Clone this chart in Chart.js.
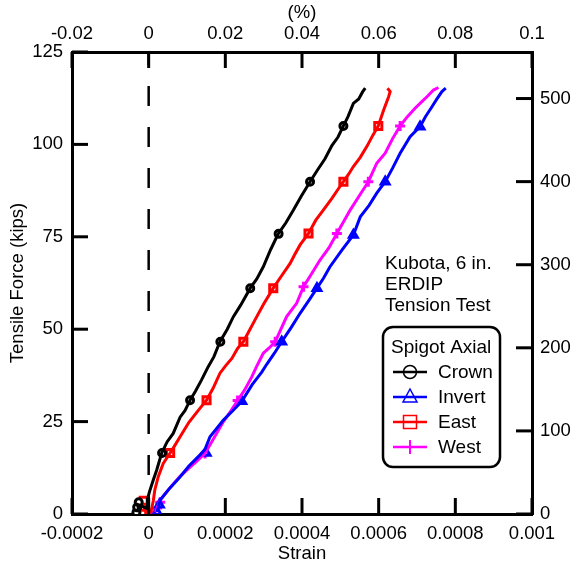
<!DOCTYPE html>
<html>
<head>
<meta charset="utf-8">
<script src="https://cdn.jsdelivr.net/npm/chart.js@4/dist/chart.umd.min.js"></script>
<style>
  html, body { margin: 0; padding: 0; background: #fff; }
  #wrap { width: 574px; height: 568px; }
</style>
</head>
<body>
<div id="wrap"><canvas id="chart" width="574" height="568"></canvas></div>
<script>
// Kubota 6 in. ERDIP tension test - spigot axial strain vs tensile force
const FONT_FAMILY = 'Arial, "Liberation Sans", sans-serif';
const KIPS_TO_KN = 4.448;

// Crown (black, circles)
const crownStrain = [-0.000028, -0.000027, -0.000004, -0.000003, 0.000002, 0.000012, 0.000021, 0.000034, 0.000048, 0.000064, 0.000082, 0.000095, 0.000108, 0.000122, 0.000138, 0.000155, 0.000170, 0.000186, 0.000205, 0.000221, 0.000240, 0.000265, 0.000282, 0.000299, 0.000318, 0.000338, 0.000358, 0.000378, 0.000398, 0.000421, 0.000440, 0.000460, 0.000478, 0.000494, 0.000508, 0.000520, 0.000534, 0.000548, 0.000558, 0.000565];
const crownForce = [0.5, 2.5, 1.5, 4.0, 6.0, 9.2, 11.9, 16.5, 19.5, 21.8, 26.2, 28.0, 30.8, 33.2, 36.3, 39.8, 42.5, 46.6, 50.0, 53.4, 56.5, 61.1, 63.6, 66.9, 71.5, 75.8, 78.8, 82.3, 86.0, 89.9, 93.0, 96.1, 99.7, 102.0, 105.0, 107.5, 111.1, 112.3, 114.2, 115.2];

// East (red, squares)
const eastStrain = [-0.000014, 0.000006, 0.000012, 0.000016, 0.000025, 0.000038, 0.000056, 0.000068, 0.000082, 0.000105, 0.000130, 0.000151, 0.000168, 0.000186, 0.000200, 0.000217, 0.000232, 0.000247, 0.000262, 0.000282, 0.000300, 0.000325, 0.000345, 0.000369, 0.000380, 0.000395, 0.000417, 0.000436, 0.000456, 0.000478, 0.000495, 0.000508, 0.000522, 0.000534, 0.000552, 0.000569, 0.000585, 0.000599, 0.000613, 0.000626, 0.000630, 0.000623];
const eastForce = [2.0, 0.5, 3.5, 6.5, 10.1, 13.7, 16.5, 18.5, 20.9, 24.8, 28.1, 30.8, 34.0, 38.1, 40.0, 42.1, 44.8, 46.6, 49.5, 53.4, 56.8, 61.1, 64.2, 67.8, 70.0, 72.8, 75.9, 79.5, 82.3, 85.4, 88.0, 89.9, 92.0, 94.0, 96.5, 99.4, 102.5, 105.0, 109.3, 112.9, 114.3, 115.2];

// Invert (blue, triangles)
const invertStrain = [0.000022, 0.000030, 0.000055, 0.000080, 0.000105, 0.000134, 0.000147, 0.000160, 0.000195, 0.000220, 0.000243, 0.000270, 0.000295, 0.000308, 0.000328, 0.000347, 0.000372, 0.000395, 0.000418, 0.000439, 0.000456, 0.000473, 0.000505, 0.000534, 0.000552, 0.000575, 0.000595, 0.000617, 0.000636, 0.000656, 0.000682, 0.000708, 0.000722, 0.000739, 0.000752, 0.000765, 0.000775];
const invertForce = [0.5, 3.8, 7.0, 9.8, 13.0, 16.0, 17.5, 20.9, 25.4, 28.0, 30.5, 35.0, 38.4, 40.5, 43.5, 46.6, 50.5, 54.3, 57.8, 61.1, 63.8, 66.9, 71.5, 75.5, 80.4, 83.5, 86.8, 89.9, 93.5, 97.6, 102.1, 104.8, 107.5, 110.2, 112.3, 114.3, 115.2];

// West (magenta, plus)
const westStrain = [0.000018, 0.000030, 0.000055, 0.000080, 0.000103, 0.000125, 0.000147, 0.000170, 0.000195, 0.000215, 0.000232, 0.000250, 0.000269, 0.000282, 0.000299, 0.000315, 0.000330, 0.000345, 0.000360, 0.000375, 0.000386, 0.000404, 0.000425, 0.000447, 0.000470, 0.000491, 0.000508, 0.000526, 0.000552, 0.000573, 0.000595, 0.000617, 0.000636, 0.000656, 0.000675, 0.000695, 0.000712, 0.000726, 0.000743, 0.000756];
const westForce = [0.5, 3.8, 7.0, 10.0, 12.2, 14.2, 16.4, 20.5, 25.0, 28.0, 30.7, 33.5, 37.1, 40.0, 43.5, 45.0, 46.6, 50.0, 53.4, 55.5, 57.0, 61.5, 65.0, 68.7, 72.0, 75.9, 79.0, 82.3, 86.5, 89.9, 94.9, 97.6, 101.5, 105.0, 107.5, 109.8, 111.5, 112.9, 114.7, 115.4];

// marker positions along each trace
const crownMarkX = [-0.000032, -0.000030, -0.000026, 0.000035, 0.000108, 0.000187, 0.000265, 0.000339, 0.000421, 0.000508];
const crownMarkY = [0.4, 1.8, 3.2, 16.5, 30.8, 46.6, 61.1, 75.8, 89.9, 105.0];
const eastMarkX = [-0.000017, -0.000015, -0.000013, 0.000056, 0.000151, 0.000247, 0.000325, 0.000417, 0.000508, 0.000599];
const eastMarkY = [0.4, 2.0, 3.6, 16.5, 30.8, 46.6, 61.1, 75.9, 89.9, 105.0];
const invertMarkX = [0.000022, 0.000028, 0.000150, 0.000243, 0.000347, 0.000439, 0.000534, 0.000617, 0.000708];
const invertMarkY = [0.5, 2.5, 16.5, 30.5, 46.6, 61.1, 75.5, 89.9, 104.8];
const westMarkX = [0.000015, 0.000022, 0.000030, 0.000147, 0.000232, 0.000330, 0.000404, 0.000491, 0.000573, 0.000656];
const westMarkY = [0.4, 1.6, 3.2, 16.4, 30.7, 46.6, 61.5, 75.9, 89.9, 105.0];

const SERIES = [
    { label: 'Crown', color: '#000000', style: 'circle', radius: 3.5, xs: crownStrain, ys: crownForce, mx: crownMarkX, my: crownMarkY },
    { label: 'Invert', color: '#0000ff', style: 'triangle', radius: 4.5, xs: invertStrain, ys: invertForce, mx: invertMarkX, my: invertMarkY },
    { label: 'East', color: '#ff0000', style: 'rect', radius: 5, xs: eastStrain, ys: eastForce, mx: eastMarkX, my: eastMarkY },
    { label: 'West', color: '#ff00ff', style: 'cross', radius: 5, xs: westStrain, ys: westForce, mx: westMarkX, my: westMarkY }
];

function zip(xs, ys) {
    return xs.map((x, i) => ({ x: x, y: ys[i] }));
}

function fmt(v, digits) {
    return String(Number(v.toFixed(digits)));
}

const datasets = [{
    label: 'zero',
    data: [{ x: 0, y: 125 }, { x: 0, y: 0 }],
    showLine: true,
    borderColor: '#000',
    borderWidth: 2.5,
    borderDash: [20, 21],
    borderDashOffset: 7,
    pointRadius: 0
}];
SERIES.forEach(s => {
    datasets.push({
        label: s.label,
        data: zip(s.xs, s.ys),
        showLine: true,
        borderColor: s.color,
        borderWidth: 3,
        pointRadius: 0,
        tension: 0
    });
});
SERIES.forEach(s => {
    datasets.push({
        label: s.label + ' markers',
        data: zip(s.mx, s.my),
        showLine: false,
        pointStyle: s.style,
        pointRadius: s.radius,
        pointBorderWidth: 3,
        pointBorderColor: s.color,
        pointBackgroundColor: '#fff'
    });
});

function onlyMultiples(step) {
    return function(scale) {
        scale.ticks = scale.ticks.filter(t => Math.abs(t.value / step - Math.round(t.value / step)) < 1e-6);
    };
}

// inward tick marks, legend box and the test note
const decorations = {
    id: 'decorations',
    afterDraw(chart) {
        const ctx = chart.ctx;
        const area = chart.chartArea;
        const len = 16;
        ctx.save();
        ctx.strokeStyle = '#000';
        ctx.lineWidth = 3;
        ctx.lineCap = 'butt';
        ['x', 'x2', 'y', 'y2'].forEach(id => {
            const sc = chart.scales[id];
            sc.ticks.forEach(t => {
                const p = sc.getPixelForValue(t.value);
                ctx.beginPath();
                if (id === 'x') { ctx.moveTo(p, area.bottom); ctx.lineTo(p, area.bottom - len); }
                if (id === 'x2') { ctx.moveTo(p, area.top); ctx.lineTo(p, area.top + len); }
                if (id === 'y') { ctx.moveTo(area.left, p); ctx.lineTo(area.left + len, p); }
                if (id === 'y2') { ctx.moveTo(area.right, p); ctx.lineTo(area.right - len, p); }
                ctx.stroke();
            });
        });

        ctx.fillStyle = '#000';
        ctx.font = '19px ' + FONT_FAMILY;
        ctx.textAlign = 'left';
        ctx.textBaseline = 'alphabetic';
        ctx.fillText('Kubota, 6 in.', 385, 269);
        ctx.fillText('ERDIP', 385, 290);
        ctx.fillText('Tension Test', 385, 311);

        // legend box
        const bx = 383, by = 327, bw = 117, bh = 140, r = 10;
        ctx.beginPath();
        ctx.moveTo(bx + r, by);
        ctx.arcTo(bx + bw, by, bx + bw, by + bh, r);
        ctx.arcTo(bx + bw, by + bh, bx, by + bh, r);
        ctx.arcTo(bx, by + bh, bx, by, r);
        ctx.arcTo(bx, by, bx + bw, by, r);
        ctx.closePath();
        ctx.fillStyle = '#fff';
        ctx.fill();
        ctx.lineWidth = 2.5;
        ctx.strokeStyle = '#000';
        ctx.stroke();

        ctx.fillStyle = '#000';
        ctx.fillText('Spigot Axial', 391, 353);
        SERIES.forEach((s, i) => {
            const cy = 372 + i * 25;
            ctx.strokeStyle = s.color;
            ctx.lineWidth = 2.5;
            ctx.beginPath();
            ctx.moveTo(393, cy);
            ctx.lineTo(427, cy);
            ctx.stroke();
            const mx = 410;
            ctx.lineWidth = 1.5;
            ctx.beginPath();
            if (s.style === 'circle') {
                ctx.arc(mx, cy, 6.5, 0, Math.PI * 2);
                ctx.stroke();
            } else if (s.style === 'triangle') {
                ctx.moveTo(mx, cy - 8);
                ctx.lineTo(mx + 7, cy + 5);
                ctx.lineTo(mx - 7, cy + 5);
                ctx.closePath();
                ctx.stroke();
            } else if (s.style === 'rect') {
                ctx.rect(mx - 6.5, cy - 6.5, 13, 13);
                ctx.stroke();
            } else {
                ctx.lineWidth = 2;
                ctx.moveTo(mx, cy - 7);
                ctx.lineTo(mx, cy + 7);
                ctx.stroke();
            }
            ctx.fillStyle = '#000';
            ctx.fillText(s.label, 438, cy + 6);
        });
        ctx.restore();
    }
};

const axisFont = { family: FONT_FAMILY, size: 18.5 };

new Chart(document.getElementById('chart'), {
    type: 'scatter',
    data: { datasets: datasets },
    plugins: [decorations],
    options: {
        responsive: false,
        animation: false,
        layout: { padding: 0 },
        plugins: { legend: { display: false }, tooltip: { enabled: false } },
        scales: {
            x: {
                type: 'linear', position: 'bottom', min: -0.0002, max: 0.001,
                ticks: { stepSize: 0.0002, autoSkip: false, maxRotation: 0, padding: 9, color: '#000', font: axisFont, callback: v => fmt(v, 4) },
                grid: { display: false, drawTicks: false },
                border: { display: true, color: '#000', width: 3 },
                title: { display: true, text: 'Strain', color: '#000', font: axisFont, padding: { top: 0, bottom: 3 } },
                afterBuildTicks: onlyMultiples(0.0002),
                afterFit: s => { s.height = 54; }
            },
            x2: {
                type: 'linear', position: 'top', min: -0.02, max: 0.1,
                ticks: { stepSize: 0.02, autoSkip: false, maxRotation: 0, padding: 7, color: '#000', font: axisFont, callback: v => fmt(v, 2) },
                grid: { display: false, drawTicks: false },
                border: { display: true, color: '#000', width: 3 },
                title: { display: true, text: '(%)', color: '#000', font: axisFont, padding: { top: 2, bottom: 0 } },
                afterBuildTicks: onlyMultiples(0.02),
                afterFit: s => { s.height = 52; }
            },
            y: {
                type: 'linear', position: 'left', min: 0, max: 125,
                ticks: { stepSize: 25, padding: 9, color: '#000', font: axisFont },
                grid: { display: false, drawTicks: false },
                border: { display: true, color: '#000', width: 3 },
                title: { display: true, text: 'Tensile Force (kips)', color: '#000', font: axisFont, padding: { top: 7, bottom: 0 } },
                afterBuildTicks: onlyMultiples(25),
                afterFit: s => { s.width = 72; }
            },
            y2: {
                type: 'linear', position: 'right', min: 0, max: 125 * KIPS_TO_KN,
                ticks: { stepSize: 100, padding: 8, color: '#000', font: axisFont },
                grid: { display: false, drawTicks: false },
                border: { display: true, color: '#000', width: 3 },
                afterBuildTicks: onlyMultiples(100),
                afterFit: s => { s.width = 42; }
            }
        }
    }
});
</script>
</body>
</html>
